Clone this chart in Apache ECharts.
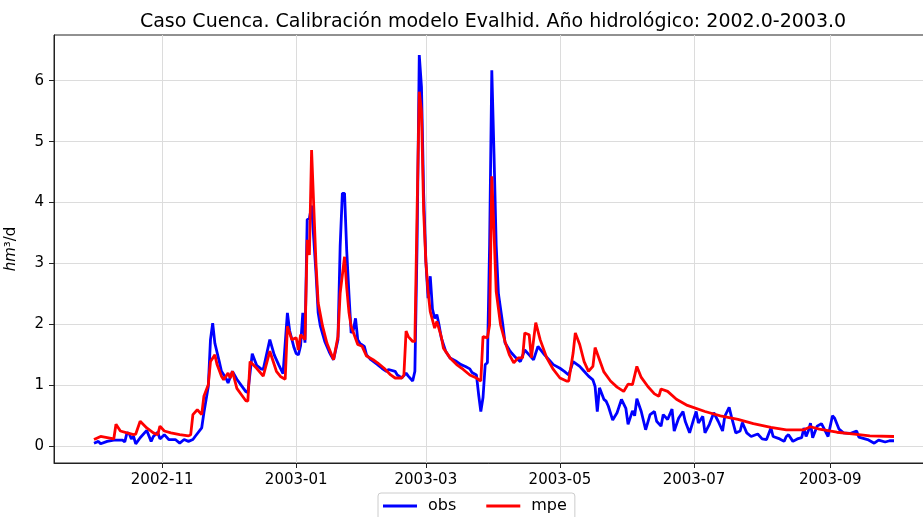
<!DOCTYPE html>
<html>
<head>
<meta charset="utf-8">
<script src="https://cdn.jsdelivr.net/npm/echarts@6/dist/echarts.min.js"></script>
<style>
  html, body { margin: 0; padding: 0; background: #fff; }
  #chart { width: 923px; height: 517px; }
</style>
</head>
<body>
<div id="chart"></div>
<script>
// day offsets are counted from the first day of the hydrological year (2002-10-01)
const obsDays = [0,2,3,6,9,13,14,15,16,17,18,19,21,24,26,27,29,30,32,34,37,39,41,43,45,46,49,50,52,53,54,55,57,58,60,61,63,65,67,69,70,72,74,76,77,80,82,84,86,88,89,91,92,93,94,95,96,97,98,99,100,101,102,103,105,107,108,109,111,112,113,114,115,116,117,118,119,120,121,123,124,126,129,131,133,134,137,138,140,142,143,145,146,147,148,149,150,151,152,153,154,155,156,157,158,160,162,165,167,169,171,172,174,175,176,177,178,179,180,181,182,183,184,186,187,189,190,192,194,196,198,200,202,205,207,209,212,214,216,218,221,223,225,227,228,229,230,232,233,234,236,238,240,242,243,245,246,247,249,251,253,255,256,258,259,261,263,264,266,268,269,271,273,274,275,277,278,280,282,284,286,287,289,290,292,294,295,297,299,302,304,306,308,309,312,314,315,316,318,320,322,323,324,325,326,327,329,331,332,334,336,337,339,341,344,347,348,352,355,357,360,362,364];
const obsValues = [0.05,0.08,0.04,0.08,0.10,0.10,0.07,0.22,0.21,0.12,0.16,0.04,0.14,0.26,0.08,0.16,0.23,0.12,0.19,0.11,0.11,0.05,0.11,0.08,0.11,0.16,0.30,0.55,0.98,1.75,2.02,1.69,1.39,1.23,1.12,1.04,1.23,1.10,1.00,0.90,0.88,1.52,1.33,1.27,1.26,1.75,1.50,1.34,1.19,2.19,1.90,1.62,1.52,1.50,1.65,2.19,1.70,3.72,3.74,3.95,3.40,2.85,2.19,1.97,1.72,1.55,1.48,1.42,1.75,3.28,4.15,4.15,3.20,2.50,1.86,1.91,2.10,1.75,1.69,1.64,1.50,1.42,1.34,1.28,1.23,1.26,1.23,1.17,1.12,1.20,1.15,1.07,1.23,3.31,6.42,5.90,4.13,3.03,2.43,2.79,2.25,2.10,2.16,1.99,1.78,1.56,1.45,1.39,1.34,1.31,1.27,1.21,1.17,0.85,0.57,0.80,1.34,1.37,3.31,6.17,4.80,3.30,2.51,2.00,1.70,1.58,1.53,1.45,1.39,1.58,1.50,1.42,1.64,1.50,1.42,1.34,1.28,1.23,1.17,1.39,1.31,1.23,1.15,1.09,0.98,0.57,0.96,0.77,0.74,0.66,0.43,0.55,0.77,0.62,0.36,0.58,0.50,0.78,0.57,0.27,0.52,0.57,0.41,0.33,0.52,0.44,0.61,0.25,0.46,0.57,0.41,0.22,0.46,0.57,0.38,0.49,0.22,0.36,0.55,0.41,0.25,0.49,0.64,0.49,0.22,0.25,0.39,0.22,0.16,0.20,0.12,0.11,0.30,0.16,0.12,0.08,0.16,0.19,0.08,0.12,0.14,0.30,0.16,0.25,0.38,0.14,0.33,0.37,0.30,0.16,0.50,0.46,0.28,0.22,0.21,0.25,0.15,0.11,0.05,0.10,0.07,0.09,0.09];

const mpeDays = [0,3,6,9,10,12,15,18,19,21,24,27,29,30,32,35,39,43,44,45,47,49,50,52,53,55,56,58,59,61,62,63,65,67,69,70,71,74,77,80,83,85,87,88,90,92,93,94,96,97,98,99,100,101,102,104,106,109,111,112,114,115,116,117,120,122,124,127,129,132,135,137,140,141,142,143,145,146,147,148,149,150,151,152,153,155,156,158,159,162,165,168,171,174,176,177,179,180,181,182,183,185,187,189,191,193,195,196,198,199,201,203,206,209,212,215,216,218,219,221,223,225,227,228,230,232,235,238,241,243,245,247,249,252,255,257,258,261,265,270,278,285,293,300,308,315,323,326,330,338,346,353,364];
const mpeValues = [0.11,0.16,0.14,0.12,0.36,0.25,0.22,0.19,0.20,0.41,0.30,0.22,0.19,0.33,0.25,0.22,0.19,0.17,0.19,0.52,0.60,0.52,0.82,1.01,1.39,1.50,1.34,1.15,1.09,1.20,1.12,1.23,0.95,0.85,0.75,0.74,1.39,1.28,1.15,1.56,1.23,1.14,1.10,1.97,1.75,1.78,1.58,1.83,1.75,3.39,3.14,4.86,3.93,3.00,2.35,1.97,1.69,1.42,1.80,2.51,3.11,2.60,2.20,1.97,1.67,1.64,1.48,1.42,1.37,1.28,1.17,1.12,1.12,1.17,1.89,1.80,1.72,1.72,3.85,5.82,5.50,3.85,3.03,2.54,2.21,1.94,2.05,1.80,1.61,1.45,1.34,1.26,1.17,1.12,1.07,1.80,1.78,1.99,4.43,3.52,2.54,1.99,1.72,1.50,1.37,1.45,1.45,1.86,1.83,1.45,2.03,1.75,1.45,1.26,1.12,1.07,1.07,1.53,1.86,1.67,1.39,1.23,1.31,1.62,1.42,1.22,1.07,0.97,0.90,1.02,1.01,1.31,1.13,0.98,0.86,0.82,0.94,0.90,0.77,0.67,0.57,0.50,0.44,0.37,0.31,0.27,0.27,0.32,0.28,0.23,0.20,0.17,0.16];

const xTickLabels = ['2002-11','2003-01','2003-03','2003-05','2003-07','2003-09'];
const yTickValues = [0,1,2,3,4,5,6];

function dayToTime(d){
    return new Date(2002, 9, 1 + d).getTime();
}
function monthToTime(s){
    let p = s.split('-');
    return new Date(+p[0], +p[1] - 1, 1).getTime();
}

const DAY = 86400000;
const xTicks = xTickLabels.map(monthToTime);
const xMin = dayToTime(0) - 18.2 * DAY;
const xMax = dayToTime(364) + 18.2 * DAY;

let chart = echarts.init(document.getElementById('chart'));
chart.setOption({
    backgroundColor: '#fff',
    animation: false,
    title: {
        text: 'Caso Cuenca. Calibración modelo Evalhid. Año hidrológico: 2002.0-2003.0',
        left: 488,
        top: 8,
        textAlign: 'center',
        textStyle: {
            fontFamily: 'DejaVu Sans',
            fontSize: 19,
            fontWeight: 'normal',
            color: '#000'
        }
    },
    legend: {
        data: ['obs', 'mpe'],
        left: 378,
        top: 493,
        orient: 'horizontal',
        icon: 'rect',
        itemWidth: 34,
        itemHeight: 3,
        itemGap: 30,
        padding: [5, 8, 8, 5],
        borderColor: '#cccccc',
        borderWidth: 1,
        borderRadius: 3,
        backgroundColor: '#fff',
        textStyle: {
            fontFamily: 'DejaVu Sans',
            fontSize: 16,
            color: '#000',
            padding: [0, 0, 0, 6]
        }
    },
    grid: {
        left: 54,
        top: 35,
        right: -11,
        bottom: 54,
        outerBoundsMode: 'none',
        containLabel: false,
        show: true,
        borderColor: '#222',
        borderWidth: 1,
        backgroundColor: 'transparent'
    },
    xAxis: {
        type: 'value',
        min: xMin,
        max: xMax,
        axisLine: { show: true, onZero: false, lineStyle: { color: '#222', width: 1 } },
        axisTick: { show: true, length: 5, lineStyle: { color: '#222' }, customValues: xTicks },
        axisLabel: {
            customValues: xTicks,
            formatter: function(val){
                let i = xTicks.indexOf(val);
                return i >= 0 ? xTickLabels[i] : '';
            },
            fontFamily: 'DejaVu Sans',
            fontSize: 15,
            color: '#000',
            margin: 10
        },
        splitLine: { show: true, lineStyle: { color: '#dcdcdc', width: 1 } }
    },
    yAxis: {
        type: 'value',
        min: -0.275,
        max: 6.75,
        name: '{i|hm}³/d',
        nameLocation: 'middle',
        nameRotate: 90,
        nameGap: 35,
        nameTextStyle: {
            fontFamily: 'DejaVu Sans',
            fontSize: 15,
            color: '#000',
            rich: {
                i: { fontFamily: 'DejaVu Sans', fontStyle: 'italic', fontSize: 15, color: '#000' }
            }
        },
        axisLine: { show: true, onZero: false, lineStyle: { color: '#222', width: 1 } },
        axisTick: { show: true, length: 5, lineStyle: { color: '#222' }, customValues: yTickValues },
        axisLabel: {
            customValues: yTickValues,
            fontFamily: 'DejaVu Sans',
            fontSize: 15,
            color: '#000',
            margin: 10
        },
        splitLine: { show: true, lineStyle: { color: '#dcdcdc', width: 1 } }
    },
    series: [
        {
            name: 'obs',
            type: 'line',
            showSymbol: false,
            symbol: 'none',
            itemStyle: { color: '#0000ff' },
            lineStyle: { color: '#0000ff', width: 2.8 },
            data: obsDays.map((d, i) => [dayToTime(d), obsValues[i]])
        },
        {
            name: 'mpe',
            type: 'line',
            showSymbol: false,
            symbol: 'none',
            itemStyle: { color: '#ff0000' },
            lineStyle: { color: '#ff0000', width: 2.8 },
            data: mpeDays.map((d, i) => [dayToTime(d), mpeValues[i]])
        }
    ]
});
</script>
</body>
</html>
